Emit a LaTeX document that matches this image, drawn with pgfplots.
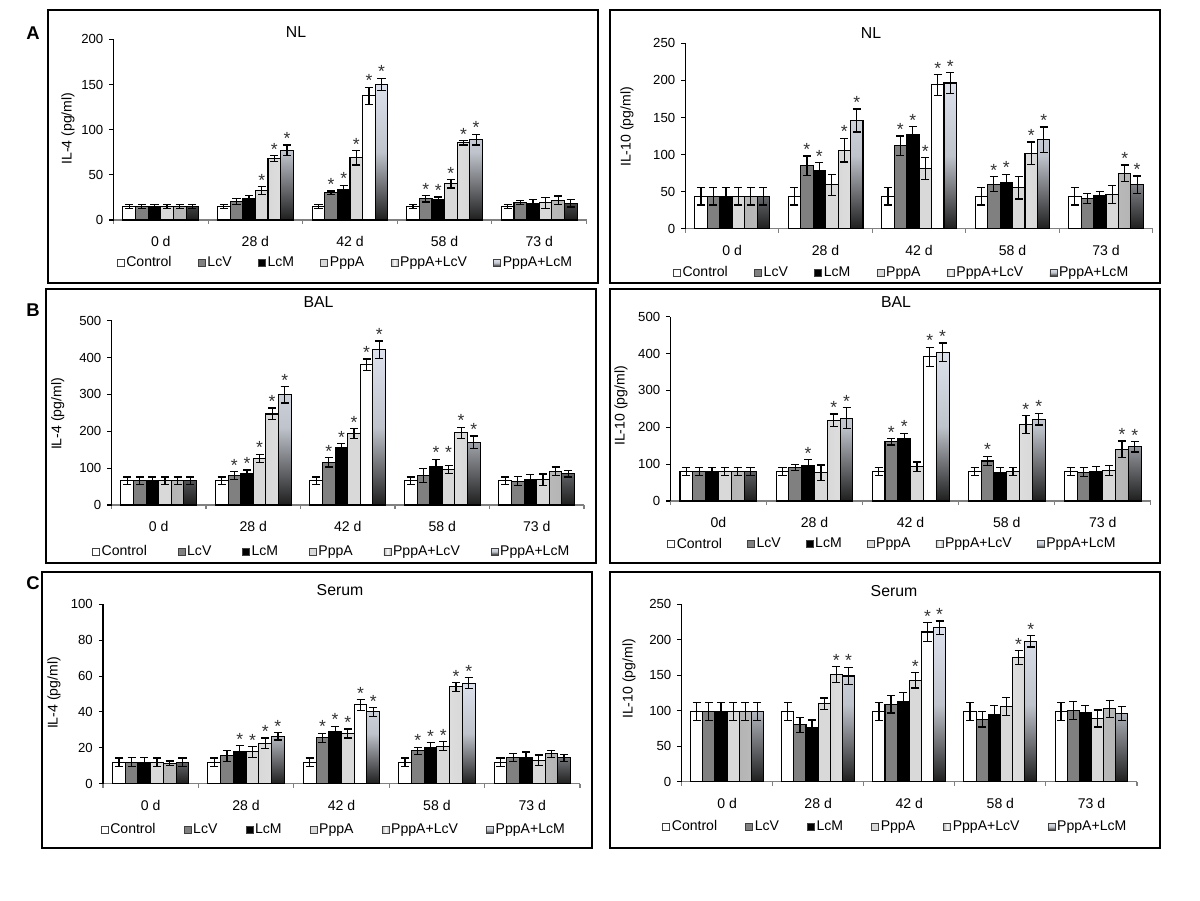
\documentclass[border=0pt]{standalone}
\usepackage{fontspec}
\setmainfont{Liberation Sans}
\usepackage{pgfplots}
\usepackage{pgfplotstable}
\pgfplotsset{compat=1.18}

\definecolor{lcmTop}{HTML}{DDE1EC}
\definecolor{lcmMid}{HTML}{BFC3CB}
\definecolor{lcmBot}{HTML}{1E1E1E}
\definecolor{lcvSide}{HTML}{B4B4B4}

% IL-4 NL
\pgfplotstableread{
x c ce v ve m me p pe pv pve pm pme
0 15 2.5 15 2.5 15 2.5 15 2.5 15 2.5 15 2.5
1 15 2.5 20.5 3 24 3 32.5 4.5 68 3.5 77 6
2 15 2.5 30 2 33.5 5 69 8 137.5 9.5 150 7
3 15 2.5 23.5 3.5 23 2.5 40 4.5 85.5 2.5 89 6
4 15 2.5 19.5 2 18 4.5 19 6 22 4.5 18.5 4
}\tAL
\pgfplotstableread{
x y
1.0667 37
1.2 71.5
1.3333 83
1.8 32
1.9333 38.5
2.0667 77
2.2 147
2.3333 157
2.8 27
2.9333 25.5
3.0667 44.5
3.2 88
3.3333 95
}\sAL
% IL-10 NL
\pgfplotstableread{
x c ce v ve m me p pe pv pve pm pme
0 44 12 44 12 44 12 44 12 44 12 44 12
1 44 12 85 13 79 10 59 14 106 16 146 15.5
2 44 12 112 13 127 11 81 15 194 14 196.5 14
3 44 12 60 10 62.5 11 55 15 102 15 120 17
4 44 12 41 7 44.5 6 46 12 75 11 59 12
}\tAR
\pgfplotstableread{
x y
0.8 98
0.9333 89
1.2 122
1.3333 161.5
1.8 125
1.9333 138
2.0667 96
2.2 208
2.3333 210.5
2.8 70
2.9333 73.5
3.2 117
3.3333 137
4.2 86
4.3333 71
}\sAR
% IL-4 BAL
\pgfplotstableread{
x c ce v ve m me p pe pv pve pm pme
0 66 10 66 10 66 10 66 10 66 10 66 10
1 66 10 80 10 85 10 127 11 247 16 299 22
2 66 10 116 13 156 10 194 13 380 16 421 24
3 66 10 81 19 105 19 97 11 196 15 170 17
4 66 10 65 12 69 14 69 15 92 11 85 9
}\tBL
\pgfplotstableread{
x y
0.8 90
0.9333 95
1.0667 138
1.2 263
1.3333 321
1.8 129
1.9333 166
2.0667 207
2.2 396
2.3333 445
2.9333 124
3.0667 124
3.2 211
3.3333 187
}\sBL
% IL-10 BAL
\pgfplotstableread{
x c ce v ve m me p pe pv pve pm pme
0 80 10 80 10 80 10 80 10 80 10 80 10
1 80 10 91 9 97 16 77 21 219 17 225 28
2 80 10 161 9 170 14 93 13 391 26 404 25
3 80 10 108.5 13 77 14 80 10 207 24 222 16
4 80 10 78 12 80 13 83 13 141 22 147 14
}\tBR
\pgfplotstableread{
x y
0.9333 113
1.2 236
1.3333 253
1.8 170
1.9333 184
2.2 417
2.3333 429
2.8 121.5
3.2 231
3.3333 238
4.2 163
4.3333 161
}\sBR
% IL-4 Serum
\pgfplotstableread{
x c ce v ve m me p pe pv pve pm pme
0 12 2.3 12 2.5 12 2.5 12 2.3 11.5 1.2 12 2.3
1 12 2.3 15.6 3 18 3.3 17.7 3 22.5 3 26.4 2
2 12 2.3 25.6 2.5 29 3 28 2.5 44 3 40 2.5
3 12 2.3 18.4 2 20 3 21 2.5 54 2.5 56 3
4 12 2.3 14.5 2.3 14.7 3 13 3 16.7 2 14.5 2
}\tCL
\pgfplotstableread{
x y
0.9333 21.3
1.0667 20.7
1.2 25.5
1.3333 28.4
1.8 28.1
1.9333 32
2.0667 30.5
2.2 47
2.3333 42.5
2.8 20.4
2.9333 23
3.0667 23.5
3.2 56.5
3.3333 59
}\sCL
% IL-10 Serum
\pgfplotstableread{
x c ce v ve m me p pe pv pve pm pme
0 99 12.5 99 12.5 99 12.5 99 12.5 99 12.5 99 12.5
1 99 12.5 80 11 77 10 110 8 151 11.5 149 12.5
2 99 12.5 109 12 113.5 12 143 11 211 13 217 9.5
3 99 12.5 88 11 94 13 106 13 175 10 198 8
4 99 12.5 100.5 13 97 10 89 12 103 12 96 10
}\tCR
\pgfplotstableread{
x y
1.2 162.5
1.3333 161.5
2.0667 154
2.2 224
2.3333 226.5
3.2 185
3.3333 206
}\sCR

\pgfplotsset{
  panel/.style={
    scale only axis, anchor=south west, clip=false,
    xmin=-0.5, xmax=4.5, ymin=0,
    axis x line*=bottom, axis y line*=left,
    x axis line style={draw=black!50, line width=0.6pt},
    y axis line style={draw=black, line width=0.6pt},
    xtick={0,1,2,3,4}, xticklabels={0 d,28 d,42 d,58 d,73 d},
    minor xtick={-0.5,0.5,1.5,2.5,3.5,4.5},
    major x tick style={draw=none},
    minor x tick style={draw=black!50, line width=0.6pt},
    ytick style={draw=black, line width=0.6pt},
    tick align=outside, major tick length=2.3pt, minor tick length=2.3pt,
    yticklabel style={font=\fontsize{7.5}{9}\selectfont},
    xticklabel style={font=\fontsize{8}{9.6}\selectfont, anchor=base, yshift=-13pt},
    /pgf/number format/assume math mode=true,
    legend columns=-1,
    legend style={draw=none, fill=none, anchor=west, inner sep=0pt, outer sep=0pt,
      font=\fontsize{8}{9.6}\selectfont, nodes={inner sep=1pt},
      /tikz/every even column/.append style={column sep=14pt}},
  },
  bc/.style={ybar, bar width=0.1333, bar shift=0pt, draw=black, line width=0.6pt,
    error bars/y dir=both, error bars/y explicit,
    error bars/error bar style={line width=0.7pt, black},
    error bars/error mark options={rotate=90, mark size=2.3pt, line width=0.7pt, black},
    legend image code/.code={\draw[##1, draw=black!75, line width=0.4pt] (0pt,-2pt) rectangle (4pt,2pt);}},
  s0/.style={bc, fill=white},
  s1/.style={bc, fill=black!50},
  s2/.style={bc, fill=black},
  s3/.style={bc, fill=black!15},
  s4/.style={bc, left color=lcvSide, right color=lcvSide, middle color=white},
  s5/.style={bc, top color=lcmTop, bottom color=lcmBot, middle color=lcmMid},
  stars/.style={draw=none, mark=none, forget plot, nodes near coords={*},
    every node near coord/.append style={anchor=south, inner sep=0pt, font=\fontsize{10}{12}\selectfont, text=black!80}},
}

\newcommand{\sixbars}[1]{%
  \addplot[s0] table[x expr=\thisrow{x}-0.3333,y=c,y error=ce]{#1};
  \addplot[s1] table[x expr=\thisrow{x}-0.2,y=v,y error=ve]{#1};
  \addplot[s2] table[x expr=\thisrow{x}-0.0667,y=m,y error=me]{#1};
  \addplot[s3] table[x expr=\thisrow{x}+0.0667,y=p,y error=pe]{#1};
  \addplot[s4] table[x expr=\thisrow{x}+0.2,y=pv,y error=pve]{#1};
  \addplot[s5] table[x expr=\thisrow{x}+0.3333,y=pm,y error=pme]{#1};
}

\begin{document}
\begin{tikzpicture}
\path[use as bounding box] (0,0) rectangle (24,-18);
% frames
\draw[line width=0.8pt] (0.96,-0.2) rectangle (11.96,-5.66);
\draw[line width=0.8pt] (12.2,-0.2) rectangle (23.2,-5.66);
\draw[line width=0.8pt] (0.92,-5.78) rectangle (11.92,-11.26);
\draw[line width=0.8pt] (12.2,-5.78) rectangle (23.2,-11.26);
\draw[line width=0.8pt] (0.84,-11.44) rectangle (11.84,-16.96);
\draw[line width=0.8pt] (12.2,-11.44) rectangle (23.2,-16.96);
% panel letters
\node[font=\fontsize{10.5}{12}\selectfont\bfseries] at (0.66,-0.66) {A};
\node[font=\fontsize{10.5}{12}\selectfont\bfseries] at (0.66,-6.2) {B};
\node[font=\fontsize{10.5}{12}\selectfont\bfseries] at (0.66,-11.66) {C};
% titles
\node[font=\fontsize{9}{11}\selectfont] at (5.92,-0.64) {NL};
\node[font=\fontsize{9}{11}\selectfont] at (17.42,-0.654) {NL};
\node[font=\fontsize{9}{11}\selectfont] at (6.37,-6.034) {BAL};
\node[font=\fontsize{9}{11}\selectfont] at (17.92,-6.034) {BAL};
\node[font=\fontsize{9}{11}\selectfont] at (6.8,-11.8) {Serum};
\node[font=\fontsize{9}{11}\selectfont] at (17.88,-11.82) {Serum};
% y labels
\node[rotate=90, font=\fontsize{8}{9.6}\selectfont] at (1.36,-2.57) {IL-4 (pg/ml)};
\node[rotate=90, font=\fontsize{8}{9.6}\selectfont] at (12.54,-2.54) {IL-10 (pg/ml)};
\node[rotate=90, font=\fontsize{8}{9.6}\selectfont] at (1.154,-8.28) {IL-4 (pg/ml)};
\node[rotate=90, font=\fontsize{8}{9.6}\selectfont] at (12.42,-8.12) {IL-10 (pg/ml)};
\node[rotate=90, font=\fontsize{8}{9.6}\selectfont] at (1.08,-13.86) {IL-4 (pg/ml)};
\node[rotate=90, font=\fontsize{8}{9.6}\selectfont] at (12.58,-13.58) {IL-10 (pg/ml)};

% A left
\begin{axis}[panel, at={(2.27cm,-4.40cm)}, width=9.46cm, height=3.614cm,
  ymax=200, ytick={0,50,100,150,200},
  legend style={at={(0.007,-0.238)}}]
\sixbars{\tAL}
\addplot[stars] table[x=x,y=y]{\sAL};
\legend{Control,LcV,LcM,PppA,PppA+LcV,PppA+LcM}
\end{axis}
% A right
\begin{axis}[panel, at={(13.708cm,-4.574cm)}, width=9.346cm, height=3.708cm,
  ymax=250, ytick={0,50,100,150,200,250},
  legend style={at={(-0.0265,-0.237)}}]
\sixbars{\tAR}
\addplot[stars] table[x=x,y=y]{\sAR};
\legend{Control,LcV,LcM,PppA,PppA+LcV,PppA+LcM}
\end{axis}
% B left
\begin{axis}[panel, at={(2.23cm,-10.10cm)}, width=9.45cm, height=3.686cm,
  ymax=500, ytick={0,100,200,300,400,500},
  legend style={at={(-0.041,-0.253)}, /tikz/every even column/.append style={column sep=16.5pt}}]
\sixbars{\tBL}
\addplot[stars] table[x=x,y=y]{\sBL};
\legend{Control,LcV,LcM,PppA,PppA+LcV,PppA+LcM}
\end{axis}
% B right
\begin{axis}[panel, at={(13.408cm,-10.02cm)}, width=9.608cm, height=3.686cm,
  ymax=500, ytick={0,100,200,300,400,500},
  xticklabels={0d,28 d,42 d,58 d,73 d},
  legend style={at={(-0.0065,-0.235)}, /tikz/every even column/.append style={column sep=13.2pt}}]
\sixbars{\tBR}
\addplot[stars] table[x=x,y=y]{\sBR};
\legend{Control,LcV,LcM,PppA,PppA+LcV,PppA+LcM}
\end{axis}
% C left
\begin{axis}[panel, at={(2.06cm,-15.674cm)}, width=9.54cm, height=3.588cm,
  ymax=100, ytick={0,20,40,60,80,100},
  legend style={at={(-0.0046,-0.258)}, /tikz/every even column/.append style={column sep=15pt}}]
\sixbars{\tCL}
\addplot[stars] table[x=x,y=y]{\sCL};
\legend{Control,LcV,LcM,PppA,PppA+LcV,PppA+LcM}
\end{axis}
% C right
\begin{axis}[panel, at={(13.63cm,-15.634cm)}, width=9.11cm, height=3.548cm,
  ymax=250, ytick={0,50,100,150,200,250},
  legend style={at={(-0.042,-0.254)}, /tikz/every even column/.append style={column sep=15pt}}]
\sixbars{\tCR}
\addplot[stars] table[x=x,y=y]{\sCR};
\legend{Control,LcV,LcM,PppA,PppA+LcV,PppA+LcM}
\end{axis}
\end{tikzpicture}
\end{document}
